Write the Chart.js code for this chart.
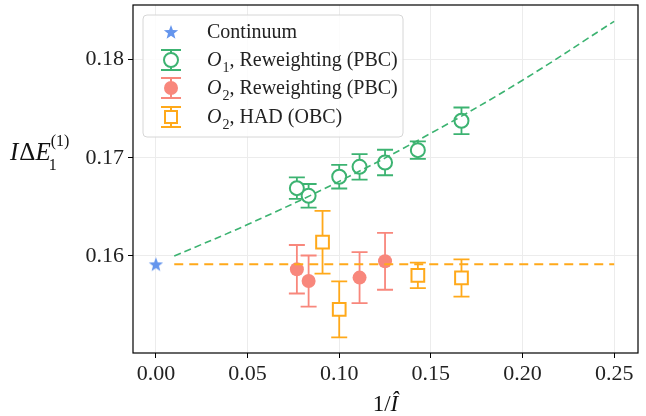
<!DOCTYPE html>
<html>
<head>
<meta charset="utf-8">
<script src="https://cdn.jsdelivr.net/npm/chart.js@4"></script>
<style>
  body { margin: 0; background: #fff; }
  canvas { display: block; }
</style>
</head>
<body>
<canvas id="chart" width="646" height="416"></canvas>
<script>
// values
const xTicks = [0, 0.05, 0.10, 0.15, 0.20, 0.25];
const yTicks = [0.16, 0.17, 0.18];

const contX = [0];
const contY = [0.15915];

const o1X = [0.0769, 0.0833, 0.1, 0.1111, 0.125, 0.1429, 0.1667];
const o1Y = [0.16691, 0.16613, 0.16807, 0.16908, 0.16952, 0.17078, 0.17377];
const o1Err = [0.0011, 0.0012, 0.0012, 0.0013, 0.0013, 0.0009, 0.00135];

const o2X = [0.0769, 0.0833, 0.1111, 0.125];
const o2Y = [0.15865, 0.15745, 0.1578, 0.15946];
const o2Err = [0.00247, 0.0026, 0.0026, 0.0029];

const hadX = [0.0909, 0.1, 0.1429, 0.1667];
const hadY = [0.1614, 0.15457, 0.15803, 0.15776];
const hadErr = [0.0032, 0.00285, 0.0013, 0.0019];

const fitX = [0.01, 0.05, 0.1, 0.15, 0.2, 0.25];
const fitY = [0.1600, 0.1632, 0.1676, 0.1725, 0.1779, 0.1839];

const flatX = [0.01, 0.25];
const flatY = [0.15915, 0.15915];

const legendItems = [
    [{ t: 'Continuum' }],
    [{ t: 'O', it: true }, { t: '1', sub: true }, { t: ', Reweighting (PBC)' }],
    [{ t: 'O', it: true }, { t: '2', sub: true }, { t: ', Reweighting (PBC)' }],
    [{ t: 'O', it: true }, { t: '2', sub: true }, { t: ', HAD (OBC)' }]
];

const GREEN = '#3cb371';
const RED = '#f8877c';
const ORANGE = '#ffa91a';
const BLUE = '#6495ed';
const SERIF = '"Liberation Serif", "DejaVu Serif", serif';

function pts(xs, ys) { return xs.map((x, i) => ({ x: x, y: ys[i] })); }

function starPath(ctx, cx, cy, R) {
    const r = R * 0.42;
    ctx.beginPath();
    for (let i = 0; i < 10; i++) {
        const a = -Math.PI / 2 + i * Math.PI / 5;
        const rad = i % 2 ? r : R;
        ctx.lineTo(cx + rad * Math.cos(a), cy + rad * Math.sin(a));
    }
    ctx.closePath();
}

const starImg = document.createElement('canvas');
starImg.width = 16; starImg.height = 16;
(function() {
    const c = starImg.getContext('2d');
    c.fillStyle = BLUE;
    starPath(c, 8, 8.6, 7.5);
    c.fill();
})();

const errBars = {
    id: 'errBars',
    beforeDatasetDraw(chart, args) {
        const ds = chart.data.datasets[args.index];
        if (!ds.err) return;
        const ctx = chart.ctx, xs = chart.scales.x, ys = chart.scales.y;
        ctx.save();
        ctx.strokeStyle = ds.borderColor;
        ctx.lineWidth = 1.8;
        ds.data.forEach((p, i) => {
            const px = xs.getPixelForValue(p.x);
            const t = ys.getPixelForValue(p.y + ds.err[i]);
            const b = ys.getPixelForValue(p.y - ds.err[i]);
            ctx.beginPath();
            ctx.moveTo(px, t); ctx.lineTo(px, b);
            ctx.moveTo(px - 8, t); ctx.lineTo(px + 8, t);
            ctx.moveTo(px - 8, b); ctx.lineTo(px + 8, b);
            ctx.stroke();
        });
        ctx.restore();
    }
};

function richText(ctx, segs, x, y, size) {
    segs.forEach(s => {
        const fs = (s.sub || s.sup) ? size * 0.7 : size;
        ctx.font = (s.it ? 'italic ' : '') + fs + 'px ' + SERIF;
        const dy = s.sub ? size * 0.3 : (s.sup ? -size * 0.45 : 0);
        ctx.fillText(s.t, x, y + dy);
        x += ctx.measureText(s.t).width + (s.it ? 1 : 0);
    });
    return x;
}

const decor = {
    id: 'decor',
    afterDatasetsDraw(chart) {
        const ctx = chart.ctx, a = chart.chartArea;
        ctx.save();
        // frame
        ctx.strokeStyle = '#000';
        ctx.lineWidth = 1.2;
        ctx.strokeRect(a.left, a.top, a.right - a.left, a.bottom - a.top);

        // legend box
        const bx = 143, by = 15, bw = 260, bh = 122, r = 4;
        ctx.beginPath();
        ctx.moveTo(bx + r, by);
        ctx.arcTo(bx + bw, by, bx + bw, by + bh, r);
        ctx.arcTo(bx + bw, by + bh, bx, by + bh, r);
        ctx.arcTo(bx, by + bh, bx, by, r);
        ctx.arcTo(bx, by, bx + bw, by, r);
        ctx.closePath();
        ctx.fillStyle = 'rgba(255,255,255,0.85)';
        ctx.fill();
        ctx.strokeStyle = '#d6d6d6';
        ctx.lineWidth = 1;
        ctx.stroke();

        const rows = [32, 60, 88, 117];
        const ix = 171;
        // icons
        ctx.fillStyle = BLUE;
        starPath(ctx, ix, rows[0] + 0.6, 7.5);
        ctx.fill();
        const icons = [[GREEN, 'openCircle'], [RED, 'dot'], [ORANGE, 'square']];
        icons.forEach((ic, k) => {
            const cy = rows[k + 1];
            ctx.strokeStyle = ic[0];
            ctx.lineWidth = 2;
            ctx.beginPath();
            ctx.moveTo(ix, cy - 10); ctx.lineTo(ix, cy + 10);
            ctx.moveTo(ix - 10, cy - 10); ctx.lineTo(ix + 10, cy - 10);
            ctx.moveTo(ix - 10, cy + 10); ctx.lineTo(ix + 10, cy + 10);
            ctx.stroke();
            ctx.beginPath();
            if (ic[1] === 'square') ctx.rect(ix - 6, cy - 6, 12, 12);
            else ctx.arc(ix, cy, 7, 0, Math.PI * 2);
            if (ic[1] === 'dot') { ctx.fillStyle = ic[0]; ctx.fill(); }
            else { ctx.fillStyle = '#fff'; ctx.fill(); ctx.stroke(); }
        });
        ctx.fillStyle = '#222';
        ctx.textBaseline = 'alphabetic';
        legendItems.forEach((segs, k) => richText(ctx, segs, 207, rows[k] + 6, 20));

        // axis titles
        ctx.fillStyle = '#111';
        const xt = [{ t: '1/' }, { t: 'Î', it: true }];
        let w = 0;
        ctx.font = '23px ' + SERIF; w += ctx.measureText('1/').width;
        ctx.font = 'italic 23px ' + SERIF; w += ctx.measureText('Î').width;
        richText(ctx, xt, (a.left + a.right) / 2 - w / 2, 411, 23);

        let x = richText(ctx, [{ t: 'I', it: true }, { t: 'Δ' }, { t: 'E', it: true }], 10, 160, 25);
        ctx.font = '16px ' + SERIF;
        ctx.fillText('1', x - 3, 170);
        ctx.fillText('(1)', x - 1, 146);
        ctx.restore();
    }
};

new Chart(document.getElementById('chart').getContext('2d'), {
    type: 'scatter',
    data: {
        datasets: [
            { type: 'line', data: pts(fitX, fitY), borderColor: GREEN, borderWidth: 1.6,
              borderDash: [7, 4], pointRadius: 0, tension: 0.4, fill: false },
            { type: 'line', data: pts(flatX, flatY), borderColor: ORANGE, borderWidth: 2,
              borderDash: [9, 6], pointRadius: 0, fill: false },
            { data: pts(contX, contY), pointStyle: starImg, pointRadius: 8 },
            { data: pts(o1X, o1Y), err: o1Err, borderColor: GREEN, backgroundColor: '#fff',
              pointRadius: 7, borderWidth: 2, pointStyle: 'circle' },
            { data: pts(o2X, o2Y), err: o2Err, borderColor: RED, backgroundColor: RED,
              pointRadius: 7, borderWidth: 0, pointStyle: 'circle' },
            { data: pts(hadX, hadY), err: hadErr, borderColor: ORANGE, backgroundColor: '#fff',
              pointRadius: 9, borderWidth: 2, pointStyle: 'rect' }
        ]
    },
    options: {
        responsive: false,
        animation: false,
        layout: { autoPadding: false, padding: { left: 0, right: 8, top: 5, bottom: 0 } },
        plugins: { legend: { display: false }, tooltip: { enabled: false } },
        scales: {
            x: {
                type: 'linear', min: -0.0125, max: 0.263,
                afterBuildTicks: s => { s.ticks = xTicks.map(v => ({ value: v })); },
                afterFit: s => { s.height = 63; s.paddingLeft = 0; s.paddingRight = 0; },
                ticks: { color: '#222', font: { family: SERIF, size: 22 }, padding: 3,
                         callback: v => v.toFixed(2), maxRotation: 0 },
                grid: { color: '#ececec', tickColor: '#000', tickLength: 5 },
                border: { display: false }
            },
            y: {
                type: 'linear', min: 0.15012, max: 0.18556,
                afterBuildTicks: s => { s.ticks = yTicks.map(v => ({ value: v })); },
                afterFit: s => { s.width = 133; s.paddingTop = 0; s.paddingBottom = 0; },
                ticks: { color: '#222', font: { family: SERIF, size: 22 }, padding: 4,
                         callback: v => v.toFixed(2) },
                grid: { color: '#ececec', tickColor: '#000', tickLength: 5 },
                border: { display: false }
            }
        }
    },
    plugins: [errBars, decor]
});
</script>
</body>
</html>
